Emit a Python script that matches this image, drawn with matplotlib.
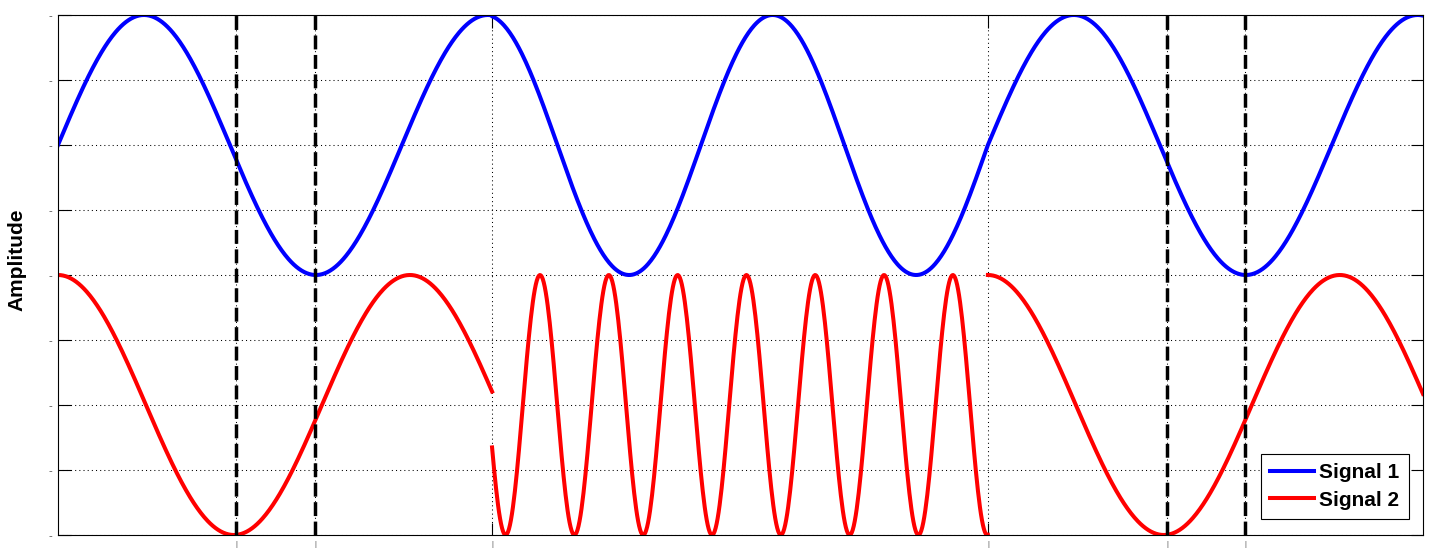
import numpy as np
import matplotlib.pyplot as plt

plt.rcParams['font.family'] = ['Liberation Sans', 'DejaVu Sans']

# segments du signal (temps, unités arbitraires)
seg_bounds = [0.0, 1.251, 2.680, 3.934]

# Signal 1 : sinus, fréquence et instant de passage à zéro (montant) par segment
blue_freq = [1.009, 1.209, 1.009]
blue_ref = [0.0, 2.680, 2.680]
# Signal 2 : cosinus, fréquence et instant d'une crête par segment
red_freq = [0.986, 5.043, 0.986]
red_ref = [0.0, 2.579, 2.680]

blue_offset, red_offset, amp = 2.0, -2.0, 2.0

# repères verticaux en pointillés
dashed_x = [0.513, 0.741, 3.196, 3.421]
xticks = [0.513, 0.741, 1.251, 2.680, 3.196, 3.421]
yticks = [-4, -3, -2, -1, 0, 1, 2, 3, 4]

tb, yb, tr, yr = [], [], [], []
for i in range(3):
    t = np.linspace(seg_bounds[i], seg_bounds[i+1], 500)
    tb.append(t)
    yb.append(blue_offset + amp*np.sin(2*np.pi*blue_freq[i]*(t - blue_ref[i])))
    # NaN pour couper le signal 2 entre les segments
    tr.append(np.append(t, np.nan))
    yr.append(np.append(red_offset + amp*np.cos(2*np.pi*red_freq[i]*(t - red_ref[i])), np.nan))

fig = plt.figure(figsize=(14.33, 5.58), dpi=100)
ax = fig.add_axes([58/1433, 23/558, 1365/1433, 520/558])

ax.plot(np.concatenate(tb), np.concatenate(yb), color=(0, 0, 1), lw=2.9, label='Signal 1')
ax.plot(np.concatenate(tr), np.concatenate(yr), color=(1, 0, 0), lw=2.9, label='Signal 2')

for x in dashed_x:
    ax.axvline(x, color='k', lw=2.5, linestyle=(0, (4.0, 1.6)), zorder=3)

ax.set_xlim(seg_bounds[0], seg_bounds[-1])
ax.set_ylim(-4, 4)
ax.set_xticks(xticks)
ax.set_yticks(yticks)
ax.set_xticklabels(['|']*len(xticks), fontsize=5, color='0.3')
ax.set_yticklabels(['-']*len(yticks), fontsize=8, color='0.3')
ax.tick_params(direction='in', length=9, width=0.8, top=True, right=True, pad=4)
ax.grid(True, color='k', lw=0.75, linestyle=(0, (1, 3)))
for s in ax.spines.values():
    s.set_linewidth(0.8)

ax.set_ylabel('Amplitude', fontsize=15, fontweight='bold')
ax.yaxis.set_label_coords(-0.023, 0.529)

leg = ax.legend(loc='lower right', bbox_to_anchor=(0.9897, 0.0308), borderaxespad=0,
                fancybox=False, framealpha=1, edgecolor='k', handlelength=2.1,
                handletextpad=0.25, labelspacing=0.4, borderpad=0.45,
                prop={'size': 15, 'weight': 'bold'})
leg.get_frame().set_linewidth(0.8)

fig.savefig('out.png', dpi=100)
